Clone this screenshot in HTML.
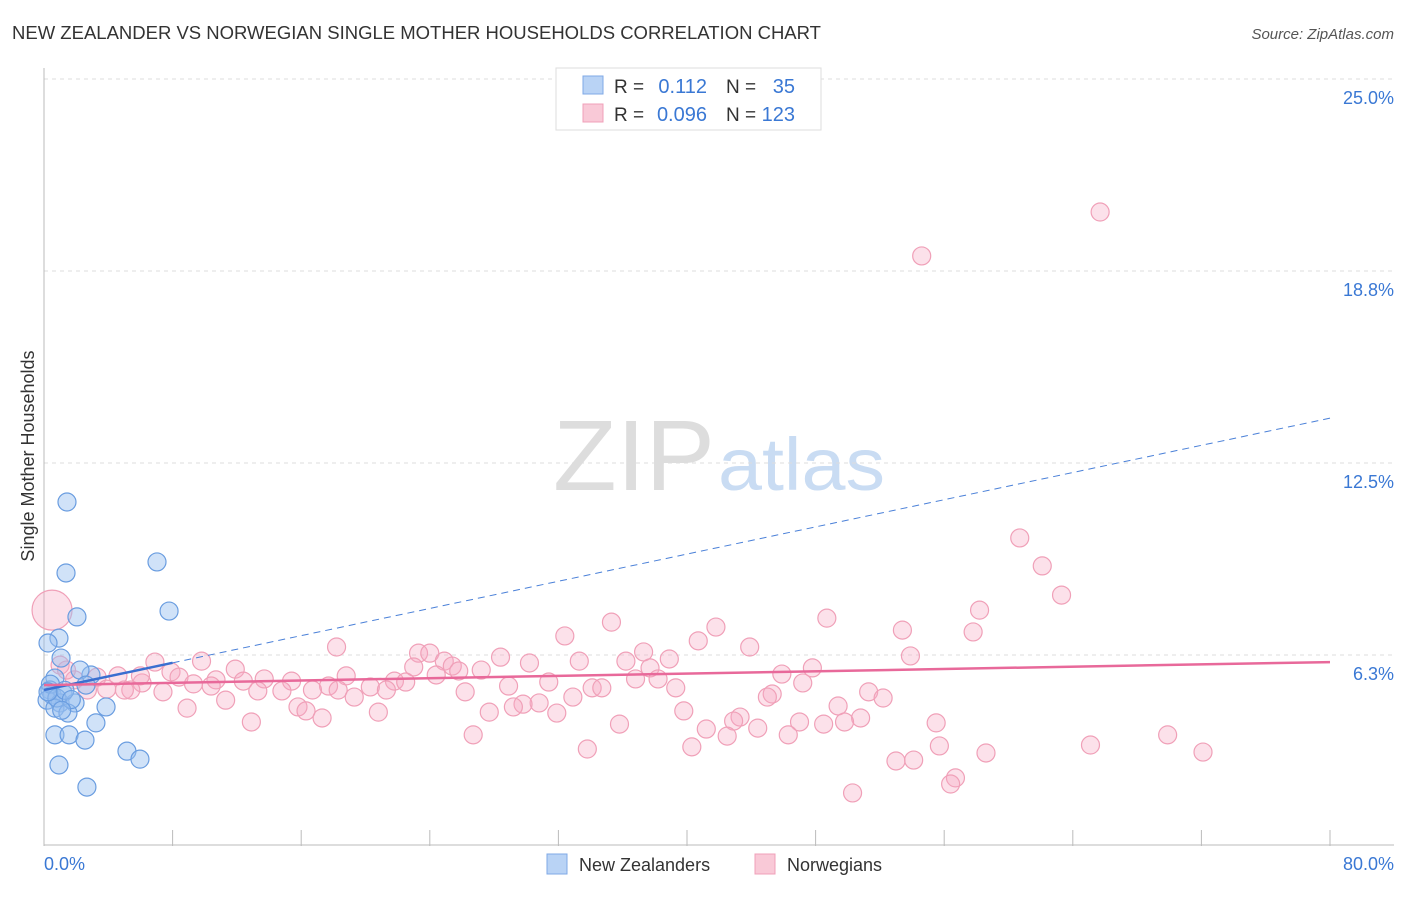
<!DOCTYPE html>
<html><head><meta charset="utf-8"><style>
body{margin:0;background:#fff;font-family:"Liberation Sans",sans-serif}
svg text{font-family:"Liberation Sans",sans-serif;white-space:pre}
</style></head><body>
<svg id="c" width="1406" height="892" xmlns="http://www.w3.org/2000/svg" xml:space="preserve">
<text x="12" y="39" font-size="18.5" fill="#333">NEW ZEALANDER VS NORWEGIAN SINGLE MOTHER HOUSEHOLDS CORRELATION CHART</text>
<text x="1394" y="39" font-size="15" fill="#555" font-style="italic" text-anchor="end">Source: ZipAtlas.com</text>
<text x="553" y="490" font-size="100" fill="#ddd" font-family="Liberation Serif,serif" textLength="162" lengthAdjust="spacingAndGlyphs">ZIP</text>
<text x="718" y="490" font-size="74" fill="#c9dcf3" textLength="167" lengthAdjust="spacingAndGlyphs">atlas</text>
<g id="grid"></g>
<line x1="44" y1="68" x2="44" y2="846" stroke="#bbb"/>
<line x1="44" y1="845" x2="1394" y2="845" stroke="#bbb"/>
<text transform="translate(34,456) rotate(-90)" font-size="18" fill="#333" text-anchor="middle">Single Mother Households</text>
<text x="44" y="870" font-size="18" fill="#3a78d4">0.0%</text>
<text x="1394" y="870" font-size="18" fill="#3a78d4" text-anchor="end">80.0%</text>
<g id="pts"></g>
<g id="lines"></g>
<rect x="556" y="68" width="265" height="62" fill="#fff" stroke="#ddd"/>
<rect x="583" y="76" width="20" height="18" fill="#b9d3f5" stroke="#7fa8e6"/>
<rect x="583" y="104" width="20" height="18" fill="#f9c9d7" stroke="#f0a0b8"/>
<text x="614" y="93" font-size="19" fill="#333">R = </text>
<text x="707" y="93" font-size="20" fill="#3a78d4" text-anchor="end">0.112</text>
<text x="726" y="93" font-size="19" fill="#333">N = </text>
<text x="795" y="93" font-size="20" fill="#3a78d4" text-anchor="end">35</text>
<text x="614" y="121" font-size="19" fill="#333">R = </text>
<text x="707" y="121" font-size="20" fill="#3a78d4" text-anchor="end">0.096</text>
<text x="726" y="121" font-size="19" fill="#333">N = </text>
<text x="795" y="121" font-size="20" fill="#3a78d4" text-anchor="end">123</text>
<rect x="547" y="854" width="20" height="20" fill="#b9d3f5" stroke="#7fa8e6"/>
<text x="579" y="871" font-size="18" fill="#333">New Zealanders</text>
<rect x="755" y="854" width="20" height="20" fill="#f9c9d7" stroke="#f0a0b8"/>
<text x="787" y="871" font-size="18" fill="#333">Norwegians</text>
</svg>
<script>
const yTicks=[6.25,12.5,18.75,25];
const yTickLabels=["6.3%","12.5%","18.8%","25.0%"];
const xTicks=[0,8,16,24,32,40,48,56,64,72,80];
const nzX=[1.43,1.37,7.03,2.05,7.78,0.93,0.25,1.06,2.92,2.24,0.68,2.61,0.37,0.5,1.18,0.19,1.0,0.68,1.93,1.49,3.86,3.23,0.68,1.56,2.55,5.16,5.97,0.93,2.67,0.4,0.8,1.3,1.7,0.25,1.1];
const nzY=[11.23,8.92,9.28,7.49,7.68,6.8,6.64,6.15,5.6,5.76,5.5,5.27,5.11,4.95,5.01,4.78,4.69,4.52,4.69,4.36,4.56,4.04,3.65,3.65,3.48,3.12,2.86,2.67,1.95,5.3,4.85,5.1,4.8,5.05,4.45];
const noX=[65.7,54.6,60.7,62.1,63.3,58.2,48.7,35.3,53.4,57.8,41.8,32.4,40.7,18.2,43.9,23.3,24.0,37.3,53.9,6.9,9.8,28.4,30.2,33.3,36.2,38.9,24.9,23.0,25.4,25.8,11.9,27.2,47.8,45.9,37.7,18.8,24.4,36.8,38.2,3.3,7.9,8.4,10.7,12.4,13.7,15.4,17.7,21.8,22.5,31.4,47.2,6.1,9.3,10.4,5.4,5.0,3.9,7.4,13.3,14.8,16.7,18.3,19.3,20.3,21.3,26.2,28.9,34.1,34.7,39.3,45.3,45.0,51.3,52.2,32.9,30.8,29.8,29.2,11.3,8.9,15.8,16.3,17.3,20.8,27.7,31.9,39.8,49.4,50.8,49.8,47.0,48.5,43.3,42.9,55.5,41.2,44.4,46.3,42.5,12.9,26.7,35.8,40.3,33.8,55.7,58.6,65.1,69.9,72.1,53.0,54.1,56.7,56.4,50.3,1.0,1.9,2.7,4.6,1.4,6.0,0.5];
const noY=[20.67,19.24,10.06,9.15,8.2,7.71,7.45,7.32,7.06,7.0,7.16,6.87,6.71,6.51,6.51,6.31,6.31,6.35,6.22,6.02,6.05,6.18,5.99,6.05,6.05,6.12,6.05,5.86,5.89,5.73,5.79,5.76,5.83,5.63,5.83,5.57,5.6,5.47,5.47,5.53,5.7,5.53,5.44,5.4,5.47,5.4,5.24,5.4,5.37,5.37,5.34,5.34,5.31,5.24,5.11,5.11,5.14,5.05,5.08,5.08,5.11,5.11,4.88,5.21,5.11,5.05,5.24,5.18,5.18,5.18,4.98,4.88,5.05,4.85,4.88,4.69,4.65,4.56,4.78,4.52,4.56,4.43,4.2,4.39,4.39,4.36,4.43,4.59,4.2,4.07,4.07,4.0,4.23,4.1,4.04,3.84,3.87,3.65,3.61,4.07,3.65,4.0,3.26,3.19,3.29,3.06,3.32,3.65,3.09,2.8,2.83,2.25,2.05,1.76,5.92,5.44,5.11,5.57,5.76,5.57,7.71];
const noSize=noX.map((v,i)=>i===noX.length-1?20:9);
const nzTrend=[5.11,13.96];
const noTrend=[5.27,6.02];
const NS="http://www.w3.org/2000/svg";
const sx=v=>44+v/80*1286;
const sy=v=>847-v/6.25*192;
function mk(tag,attrs,parent){const e=document.createElementNS(NS,tag);for(const k in attrs)e.setAttribute(k,attrs[k]);parent.appendChild(e);return e;}
const grid=document.getElementById('grid');
yTicks.forEach((t,i)=>{
 const l=mk('line',{x1:44,x2:1394,y1:sy(t),y2:sy(t),stroke:'#ddd','stroke-dasharray':'4,4'},grid);
 
 
 const tx=mk('text',{x:1394,y:sy(t)+25,'font-size':18,fill:'#3a78d4','text-anchor':'end'},grid);
 tx.textContent=yTickLabels[i];
 
 
});
xTicks.forEach(t=>{
 const l=mk('line',{x1:sx(t),x2:sx(t),y1:830,y2:846,stroke:'#bbb'},grid);
 
 
});
const pts=document.getElementById('pts');
noX.forEach((x,i)=>{
 const c=mk('circle',{cx:sx(x),cy:sy(noY[i]),r:noSize[i],fill:'rgba(246,170,196,0.35)',stroke:'#f0a0b8','stroke-width':1.2},pts);
 
 
});
nzX.forEach((x,i)=>{
 const c=mk('circle',{cx:sx(x),cy:sy(nzY[i]),r:9,fill:'rgba(150,190,240,0.45)',stroke:'#6a9de0','stroke-width':1.2},pts);
 
 
});
const lines=document.getElementById('lines');
const nzAt=x=>nzTrend[0]+(nzTrend[1]-nzTrend[0])*x/80;
let l1=mk('line',{x1:sx(8),y1:sy(nzAt(8)),x2:sx(80),y2:sy(nzAt(80)),stroke:'#4a80d8','stroke-width':1,'stroke-dasharray':'7,5'},lines);


let l2=mk('line',{x1:sx(0),y1:sy(nzAt(0)),x2:sx(8),y2:sy(nzAt(8)),stroke:'#3a6fd0','stroke-width':2.5},lines);


let l3=mk('line',{x1:sx(0),y1:sy(noTrend[0]),x2:sx(80),y2:sy(noTrend[1]),stroke:'#e8699a','stroke-width':2.5},lines);


</script>
</body></html>
